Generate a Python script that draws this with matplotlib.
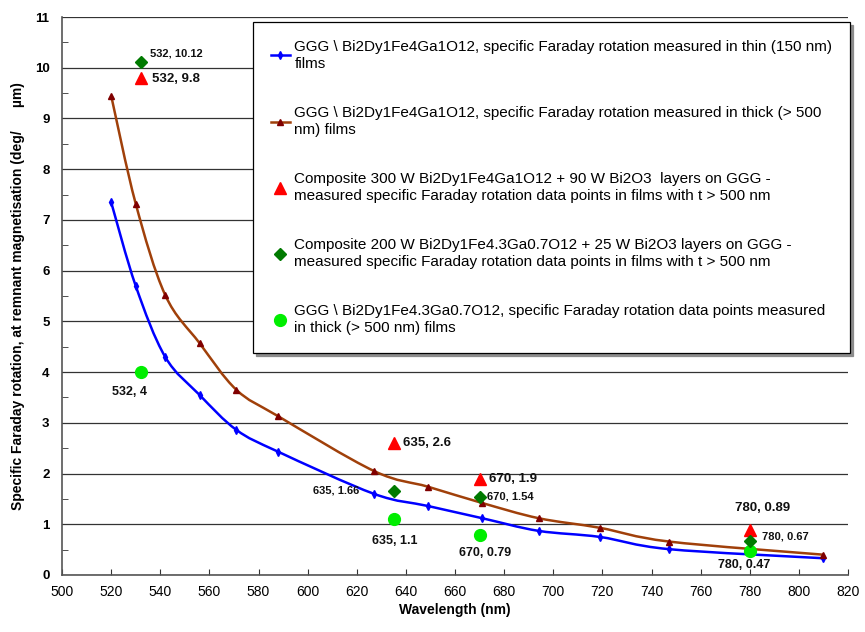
import numpy as np
import matplotlib
matplotlib.use("Agg")
import matplotlib.pyplot as plt
from matplotlib.path import Path
from matplotlib.patches import PathPatch
from matplotlib.lines import Line2D
from matplotlib.ticker import MultipleLocator

plt.rcParams['font.family'] = ['Liberation Sans', 'DejaVu Sans']

# measured curves (wavelength in nm, rotation in deg/um)
wl_curve = [520, 530, 542, 556, 571, 588, 627, 649, 671, 694, 719, 747, 810]
thin_150 = [7.35, 5.70, 4.30, 3.55, 2.86, 2.43, 1.60, 1.36, 1.12, 0.87, 0.75, 0.51, 0.33]
thick_500 = [9.45, 7.32, 5.52, 4.57, 3.65, 3.13, 2.05, 1.74, 1.42, 1.12, 0.93, 0.66, 0.40]

# single data points
wl_pts = [532, 635, 670, 780]
comp_300 = [9.8, 2.6, 1.9, 0.89]
comp_200 = [10.12, 1.66, 1.54, 0.67]
ggg_43 = [4.0, 1.1, 0.79, 0.47]

lab_thin = r"GGG \ Bi2Dy1Fe4Ga1O12, specific Faraday rotation measured in thin (150 nm)" + "\nfilms"
lab_thick = r"GGG \ Bi2Dy1Fe4Ga1O12, specific Faraday rotation measured in thick (> 500" + "\nnm) films"
lab_c300 = "Composite 300 W Bi2Dy1Fe4Ga1O12 + 90 W Bi2O3  layers on GGG -\nmeasured specific Faraday rotation data points in films with t > 500 nm"
lab_c200 = "Composite 200 W Bi2Dy1Fe4.3Ga0.7O12 + 25 W Bi2O3 layers on GGG -\nmeasured specific Faraday rotation data points in films with t > 500 nm"
lab_g43 = r"GGG \ Bi2Dy1Fe4.3Ga0.7O12, specific Faraday rotation data points measured" + "\nin thick (> 500 nm) films"


def smooth_path(xs, ys):
    # excel-like smoothed line: cubic bezier segments through the points
    p = np.column_stack([xs, ys]).astype(float)
    ext = np.vstack([p[0], p, p[-1]])
    verts = [p[0]]
    codes = [Path.MOVETO]
    for i in range(len(p) - 1):
        p0, p1, p2, p3 = ext[i], ext[i + 1], ext[i + 2], ext[i + 3]
        c1 = p1 + (p2 - p0) / 6.0
        c2 = p2 - (p3 - p1) / 6.0
        verts += [c1, c2, p2]
        codes += [Path.CURVE4] * 3
    return Path(verts, codes)


fig = plt.figure(figsize=(8.65, 6.32), dpi=100)
ax = fig.add_axes([0.0717, 0.0902, 0.9087, 0.8829])

ax.set_xlim(500, 820)
ax.set_ylim(0, 11)
ax.yaxis.set_major_locator(MultipleLocator(1))
ax.yaxis.set_minor_locator(MultipleLocator(0.5))
ax.xaxis.set_major_locator(MultipleLocator(20))
ax.grid(axis='y', which='major', color='#333333', linewidth=0.9)
ax.set_axisbelow(True)
ax.spines['right'].set_visible(False)
ax.spines['top'].set_visible(False)
ax.spines['left'].set_color('#555555')
ax.spines['bottom'].set_color('#555555')
ax.spines['left'].set_linewidth(1.2)
ax.spines['bottom'].set_linewidth(1.2)
ax.tick_params(axis='x', direction='in', length=4, pad=7, labelsize=10, color='#333333')
ax.tick_params(axis='y', which='major', direction='in', length=0, pad=9, labelsize=9.5)
ax.tick_params(axis='y', which='minor', direction='in', length=4, color='#333333')
for t in ax.get_yticklabels():
    t.set_fontweight('bold')

# smoothed curves
ax.add_patch(PathPatch(smooth_path(wl_curve, thin_150), fill=False, edgecolor='#0000ff', lw=1.8, zorder=3))
ax.add_patch(PathPatch(smooth_path(wl_curve, thick_500), fill=False, edgecolor='#a0400a', lw=1.8, zorder=3))
ax.plot(wl_curve, thin_150, ls='none', marker='d', ms=4, color='#0000ff', zorder=4)
ax.plot(wl_curve, thick_500, ls='none', marker='^', ms=4, color='#800000', zorder=4)

ax.plot(wl_pts, comp_300, ls='none', marker='^', ms=9, color='#ff0000', zorder=5)
ax.plot(wl_pts, comp_200, ls='none', marker='D', ms=6, color='#007a00', zorder=6)
ax.plot(wl_pts, ggg_43, ls='none', marker='o', ms=8.5, color='#00ee00', zorder=5)

# data labels
notes = [
    (532, comp_200[0], "532, 10.12", (7, 6), 'left', 8),
    (532, comp_300[0], "532, 9.8", (8, -1), 'left', 9.5),
    (532, ggg_43[0], "532, 4", (-8, -14), 'center', 9),
    (635, comp_300[1], "635, 2.6", (7, 0), 'left', 9.5),
    (635, comp_200[1], "635, 1.66", (-25, 0), 'right', 8),
    (635, ggg_43[1], "635, 1.1", (1, -16), 'center', 9),
    (670, comp_300[2], "670, 1.9", (7, 0), 'left', 9.5),
    (670, comp_200[2], "670, 1.54", (5, 0), 'left', 8),
    (670, ggg_43[2], "670, 0.79", (4, -13), 'center', 9),
    (780, comp_300[3], "780, 0.89", (9, 16), 'center', 9.5),
    (780, comp_200[3], "780, 0.67", (9, 3), 'left', 8),
    (780, ggg_43[3], "780, 0.47", (-4, -10), 'center', 9),
]
for x, y, s, off, ha, fs in notes:
    ax.annotate(s, (x, y), xytext=off, textcoords='offset points', ha=ha, va='center',
                fontsize=fs, fontweight='bold', color='#111111', zorder=7)

ax.set_xlabel("Wavelength (nm)", fontsize=10, fontweight='bold', labelpad=3)
ax.set_ylabel("Specific Faraday rotation, at remnant magnetisation (deg/      \u00b5m)",
              fontsize=10, fontweight='bold', labelpad=7)

handles = [
    Line2D([], [], color='#0000ff', lw=1.8, marker='d', ms=4),
    Line2D([], [], color='#a0400a', lw=1.8, marker='^', ms=4, mfc='#800000', mec='#800000'),
    Line2D([], [], ls='none', color='#ff0000', marker='^', ms=9),
    Line2D([], [], ls='none', color='#007a00', marker='D', ms=6),
    Line2D([], [], ls='none', color='#00ee00', marker='o', ms=8.5),
]
leg = ax.legend(handles, [lab_thin, lab_thick, lab_c300, lab_c200, lab_g43],
                loc='upper left', bbox_to_anchor=(0.243, 0.991),
                fontsize=11, labelspacing=2.28, handlelength=1.25, handletextpad=0.3,
                borderpad=1.15, borderaxespad=0, fancybox=False, framealpha=1,
                edgecolor='black', shadow={'ox': 2, 'oy': -2, 'color': '0.55', 'alpha': 1})
for t in leg.get_texts():
    t.set_linespacing(1.3)
leg.get_frame().set_linewidth(0.9)
leg.set_zorder(10)

fig.savefig("out.png", dpi=100)
